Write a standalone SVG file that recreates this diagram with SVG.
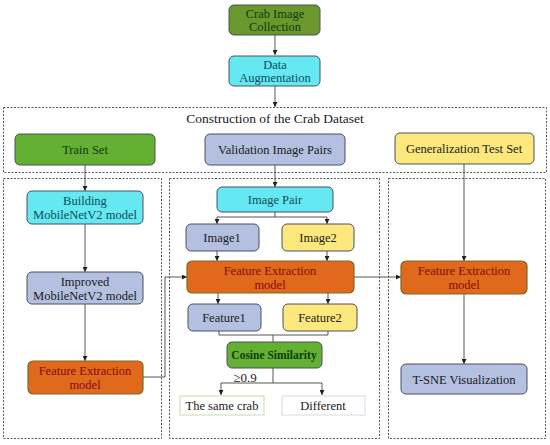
<svg xmlns="http://www.w3.org/2000/svg" width="550" height="445" viewBox="0 0 550 445">
<defs>
<marker id="ah" viewBox="0 0 6 6" refX="6" refY="3" markerWidth="5" markerHeight="5" orient="auto" markerUnits="userSpaceOnUse">
<path d="M0,0 L6,3 L0,6 z" fill="#222"/>
</marker>
</defs>
<style>
text{font-family:"Liberation Serif","Times New Roman",serif;font-size:12.5px;text-anchor:middle;fill:#1a1a1a}
.panel{fill:none;stroke:#50586a;stroke-width:1;stroke-dasharray:2,1.5}
.box{stroke:#4a5060;stroke-width:1}
.green{fill:#64b032}
.dgreen{fill:#6a982c}
.cyan{fill:#66e8f2}
.lav{fill:#b4c0e0}
.yel{fill:#fce87c}
.orange{fill:#e0691c;stroke:#7a6a28;stroke-width:1.2}
.tcyan{fill:#0b4e58}
.tgreen{fill:#0f3a0a}
.tor{fill:#860a0a}
.conn{fill:none;stroke:#444;stroke-width:0.9}
.arr{fill:none;stroke:#444;stroke-width:0.9;marker-end:url(#ah)}
</style>

<g id="panels">
<rect class="panel" x="3.5" y="107.5" width="543" height="65"/>
<rect class="panel" x="3.5" y="178.5" width="158" height="260"/>
<rect class="panel" x="169.5" y="178.5" width="210" height="260"/>
<rect class="panel" x="388.5" y="178.5" width="157" height="260"/>
<text x="275" y="123" style="font-size:13.5px">Construction of the Crab Dataset</text>
</g>

<g id="connectors">
<line class="arr" x1="275" y1="35" x2="275" y2="55"/>
<line class="arr" x1="275" y1="86" x2="275" y2="107"/>
<line class="arr" x1="85" y1="165" x2="85" y2="191"/>
<line class="arr" x1="85" y1="224" x2="85" y2="272"/>
<line class="arr" x1="85" y1="304" x2="85" y2="361"/>
<polyline class="arr" points="143,377 165,377 165,277 187,277"/>
<line class="arr" x1="275" y1="165" x2="275" y2="187"/>
<polyline class="conn" points="275,212 275,217"/>
<line class="conn" x1="217" y1="217" x2="327" y2="217"/>
<line class="arr" x1="217" y1="217" x2="217" y2="224"/>
<line class="arr" x1="327" y1="217" x2="327" y2="224"/>
<line class="arr" x1="217" y1="251" x2="217" y2="261"/>
<line class="arr" x1="327" y1="251" x2="327" y2="261"/>
<line class="arr" x1="354" y1="277" x2="401" y2="277"/>
<line class="arr" x1="218" y1="293" x2="218" y2="304"/>
<line class="arr" x1="328" y1="293" x2="328" y2="304"/>
<polyline class="conn" points="219,331 219,335 328,335 328,331"/>
<line class="conn" x1="273" y1="335" x2="273" y2="342"/>
<line class="conn" x1="273" y1="368" x2="273" y2="383"/>
<line class="conn" x1="221" y1="383" x2="322" y2="383"/>
<line class="arr" x1="221" y1="383" x2="221" y2="395"/>
<line class="arr" x1="322" y1="383" x2="322" y2="395"/>
<line class="arr" x1="464" y1="164" x2="464" y2="261"/>
<line class="arr" x1="464" y1="294" x2="464" y2="364"/>
<text x="245" y="382" style="font-size:13px">≥0.9</text>
</g>

<g id="crab-image-collection">
<rect class="box dgreen" x="229" y="5" width="91" height="30" rx="5"/>
<text class="tgreen" x="275" y="18">Crab Image</text>
<text class="tgreen" x="275" y="31">Collection</text>
</g>
<g id="data-augmentation">
<rect class="box cyan" x="229" y="56" width="91" height="30" rx="5"/>
<text class="tcyan" x="275" y="69">Data</text>
<text class="tcyan" x="275" y="82">Augmentation</text>
</g>

<g id="train-set">
<rect class="box green" x="15" y="134" width="140" height="31" rx="5"/>
<text class="tgreen" x="85" y="154">Train Set</text>
</g>
<g id="validation-image-pairs">
<rect class="box lav" x="205" y="134" width="140" height="31" rx="5"/>
<text x="275" y="154">Validation Image Pairs</text>
</g>
<g id="generalization-test-set">
<rect class="box yel" x="395" y="133" width="139" height="31" rx="5"/>
<text x="464" y="153">Generalization Test Set</text>
</g>

<g id="building-mobilenetv2">
<rect class="box cyan" x="27" y="191" width="116" height="33" rx="5"/>
<text class="tcyan" x="85" y="205">Building</text>
<text class="tcyan" x="85" y="219">MobileNetV2 model</text>
</g>
<g id="improved-mobilenetv2">
<rect class="box lav" x="27" y="272" width="116" height="32" rx="5"/>
<text x="85" y="286">Improved</text>
<text x="85" y="300">MobileNetV2 model</text>
</g>
<g id="feature-extraction-left">
<rect class="orange" x="28" y="361" width="115" height="33" rx="5"/>
<text class="tor" x="85" y="375">Feature Extraction</text>
<text class="tor" x="85" y="389">model</text>
</g>

<g id="image-pair">
<rect class="box cyan" x="217" y="187" width="116" height="25" rx="5"/>
<text class="tcyan" x="275" y="204">Image Pair</text>
</g>
<g id="image1">
<rect class="box lav" x="186" y="224" width="73" height="27" rx="5"/>
<text x="222" y="242">Image1</text>
</g>
<g id="image2">
<rect class="box yel" x="282" y="224" width="72" height="27" rx="5"/>
<text x="318" y="242">Image2</text>
</g>
<g id="feature-extraction-middle">
<rect class="orange" x="187" y="261" width="167" height="32" rx="5"/>
<text class="tor" x="270" y="275">Feature Extraction</text>
<text class="tor" x="270" y="289">model</text>
</g>
<g id="feature1">
<rect class="box lav" x="188" y="304" width="73" height="27" rx="5"/>
<text x="224" y="322">Feature1</text>
</g>
<g id="feature2">
<rect class="box yel" x="283" y="304" width="74" height="27" rx="5"/>
<text x="320" y="322">Feature2</text>
</g>
<g id="cosine-similarity">
<rect class="box green" x="227" y="342" width="95" height="26" rx="5"/>
<text class="tgreen" x="274" y="359" style="font-weight:bold;font-size:11.5px">Cosine Similarity</text>
</g>
<g id="the-same-crab">
<rect x="180" y="396" width="84" height="19" fill="#fff" stroke="#c6dcb0" stroke-width="1"/>
<text x="222" y="410">The same crab</text>
</g>
<g id="different">
<rect x="282" y="396" width="83" height="19" fill="#fff" stroke="#d4dae6" stroke-width="1"/>
<text x="323" y="410">Different</text>
</g>

<g id="feature-extraction-right">
<rect class="orange" x="401" y="261" width="126" height="33" rx="5"/>
<text class="tor" x="464" y="275">Feature Extraction</text>
<text class="tor" x="464" y="289">model</text>
</g>
<g id="t-sne-visualization">
<rect class="box lav" x="401" y="364" width="126" height="30" rx="5"/>
<text x="464" y="384">T-SNE Visualization</text>
</g>
</svg>
